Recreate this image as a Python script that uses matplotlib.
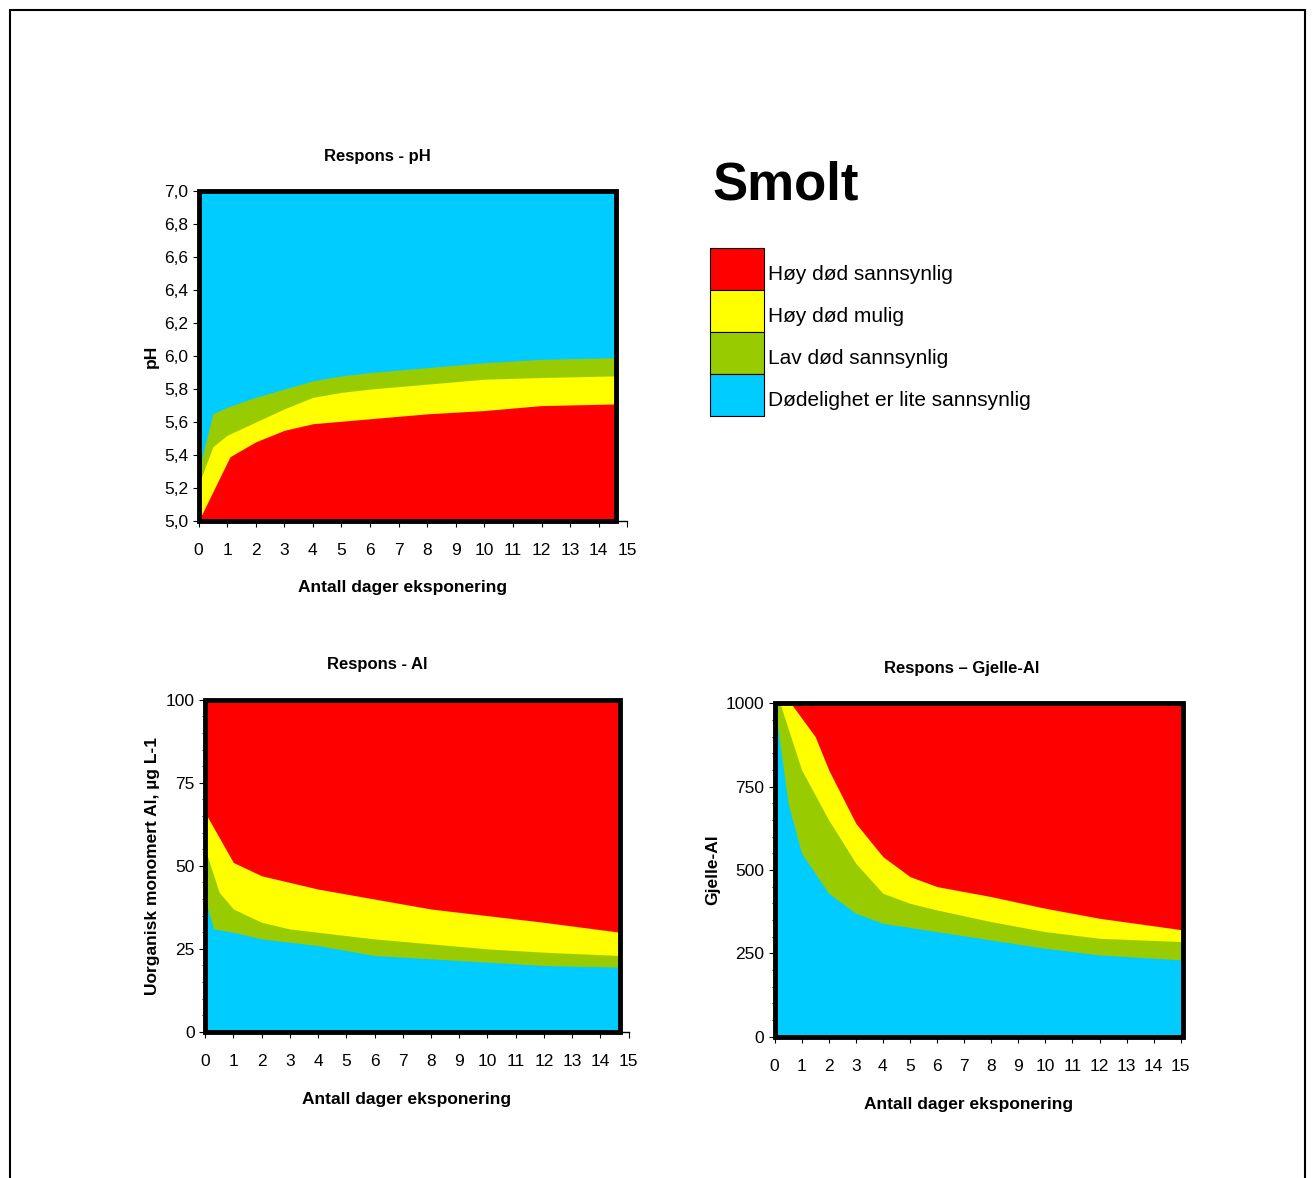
import matplotlib
matplotlib.use("Agg")
import matplotlib.pyplot as plt
from matplotlib.patches import Rectangle

plt.rcParams['font.family'] = ['Liberation Sans', 'DejaVu Sans']

RED = '#FF0000'
YEL = '#FFFF00'
GRN = '#99CC00'
BLU = '#00CCFF'

# pH chart boundaries
ph_red_x = [0, 1.1, 2, 3, 4, 6, 8, 10, 12, 14.6]
ph_red_y = [5.0, 5.39, 5.48, 5.55, 5.59, 5.62, 5.65, 5.67, 5.70, 5.71]
ph_yel_x = [0, 0.5, 1, 2, 3, 4, 5, 6, 8, 10, 12, 14.6]
ph_yel_y = [5.22, 5.45, 5.52, 5.6, 5.68, 5.75, 5.78, 5.8, 5.83, 5.86, 5.87, 5.88]
ph_grn_x = [0, 0.5, 1, 2, 3, 4, 5, 6, 8, 10, 12, 14.6]
ph_grn_y = [5.3, 5.65, 5.69, 5.75, 5.8, 5.85, 5.88, 5.9, 5.93, 5.96, 5.98, 5.99]

# Al chart boundaries
al_yel_x = [0, 1, 2, 4, 6, 8, 10, 12, 14.7]
al_yel_y = [66, 51, 47, 43, 40, 37, 35, 33, 30]
al_grn_x = [0, 0.5, 1, 2, 3, 4, 6, 8, 10, 12, 14.7]
al_grn_y = [55, 42, 37, 33, 31, 30, 28, 26.5, 25, 24, 23]
al_blu_x = [0, 0.3, 1, 2, 4, 6, 8, 10, 12, 14.7]
al_blu_y = [40, 31, 30, 28, 26, 23, 22, 21, 20, 19.5]

# Gill-Al chart boundaries
g_red_x = [0, 0.6, 1.5, 2, 3, 4, 5, 6, 8, 10, 12, 15.1]
g_red_y = [1000, 1000, 900, 800, 640, 540, 480, 450, 420, 385, 355, 320]
g_yel_x = [0, 0.2, 1, 2, 3, 4, 5, 6, 8, 10, 12, 15.1]
g_yel_y = [1000, 1000, 800, 650, 520, 430, 400, 380, 345, 315, 295, 285]
g_blu_x = [0, 0.5, 1, 2, 3, 4, 6, 8, 10, 12, 15.1]
g_blu_y = [1000, 700, 550, 430, 370, 340, 315, 290, 265, 245, 230]

days = list(range(16))
legend_labels = ['Høy død sannsynlig', 'Høy død mulig', 'Lav død sannsynlig',
                 'Dødelighet er lite sannsynlig']

fig = plt.figure(figsize=(13.15, 11.78), dpi=100)
fig.patches.append(Rectangle((10/1315, -0.01), 1295/1315, 1 - 10/1178 + 0.01,
                             transform=fig.transFigure, fill=False, ec='black', lw=1.5))


def setup(ax, ymin, ymax, xend, bg):
    # plot area ends at xend, axis line continues to 15
    ax.set_xlim(0, 15.2 if xend > 15 else 15)
    ax.set_ylim(ymin, ymax)
    for s in ax.spines.values():
        s.set_visible(False)
    ax.spines['bottom'].set_visible(True)
    ax.spines['bottom'].set_linewidth(1)
    ax.spines['bottom'].set_bounds(0, 15)
    ax.set_facecolor('none')
    ax.add_patch(Rectangle((0, ymin), xend, ymax - ymin, fc=bg, ec='none', zorder=0))
    return Rectangle((0, ymin), xend, ymax - ymin, fill=False, ec='black', lw=3.5,
                     zorder=5, clip_on=False)


def style(ax, title, tx, ylabel, frame):
    ax.add_patch(frame)
    ax.set_xticks(days)
    ax.tick_params(labelsize=12.5, direction='out', length=4)
    ax.tick_params(axis='x', pad=12)
    ax.set_title(title, fontsize=12, fontweight='bold', pad=22, x=tx)
    ax.set_xlabel('Antall dager eksponering', fontsize=12.5, fontweight='bold', labelpad=12)
    ax.xaxis.set_label_coords(0.475, -0.18)
    ax.set_ylabel(ylabel, fontsize=12.5, fontweight='bold')


# pH
ax = fig.add_axes([0.151, 0.5577, 0.326, 0.280])
fr = setup(ax, 5.0, 7.0, 14.6, BLU)
ax.fill_between(ph_grn_x, 5.0, ph_grn_y, color=GRN, lw=0)
ax.fill_between(ph_yel_x, 5.0, ph_yel_y, color=YEL, lw=0)
ax.fill_between(ph_red_x, 5.0, ph_red_y, color=RED, lw=0)
yt = [5.0 + 0.2 * i for i in range(11)]
ax.set_yticks(yt)
ax.set_yticklabels([f"{v:.1f}".replace('.', ',') for v in yt])
style(ax, 'Respons - pH', 0.417, 'pH', fr)

# Al
ax = fig.add_axes([0.156, 0.124, 0.322, 0.282])
fr = setup(ax, 0, 100, 14.7, RED)
ax.fill_between(al_yel_x, 0, al_yel_y, color=YEL, lw=0)
ax.fill_between(al_grn_x, 0, al_grn_y, color=GRN, lw=0)
ax.fill_between(al_blu_x, 0, al_blu_y, color=BLU, lw=0)
ax.set_yticks([0, 25, 50, 75, 100])
ax.set_yticks(range(0, 101, 5), minor=True)
style(ax, 'Respons - Al', 0.407, 'Uorganisk monomert Al, µg L-1', fr)

# Gill-Al
ax = fig.add_axes([0.589, 0.120, 0.311, 0.283])
fr = setup(ax, 0, 1000, 15.1, RED)
ax.set_xlim(0, 15.1)
ax.fill_between(g_red_x, 0, g_red_y, color=YEL, lw=0)
ax.fill_between(g_yel_x, 0, g_yel_y, color=GRN, lw=0)
ax.fill_between(g_blu_x, 0, g_blu_y, color=BLU, lw=0)
ax.set_yticks([0, 250, 500, 750, 1000])
ax.set_yticks(range(0, 1001, 50), minor=True)
style(ax, 'Respons – Gjelle-Al', 0.457, 'Gjelle-Al', fr)

# legend
fig.text(712/1315, 1 - 185/1178, 'Smolt', fontsize=38, fontweight='bold', va='center')
for i, (lab, col) in enumerate(zip(legend_labels, [RED, YEL, GRN, BLU])):
    top = 248 + 42 * i
    fig.patches.append(Rectangle((710/1315, 1 - (top + 42)/1178), 54/1315, 42/1178,
                                 transform=fig.transFigure, fc=col, ec='black', lw=0.8))
    fig.text(768/1315, 1 - (top + 26)/1178, lab, fontsize=15, va='center')

fig.savefig('out.png', dpi=100)
